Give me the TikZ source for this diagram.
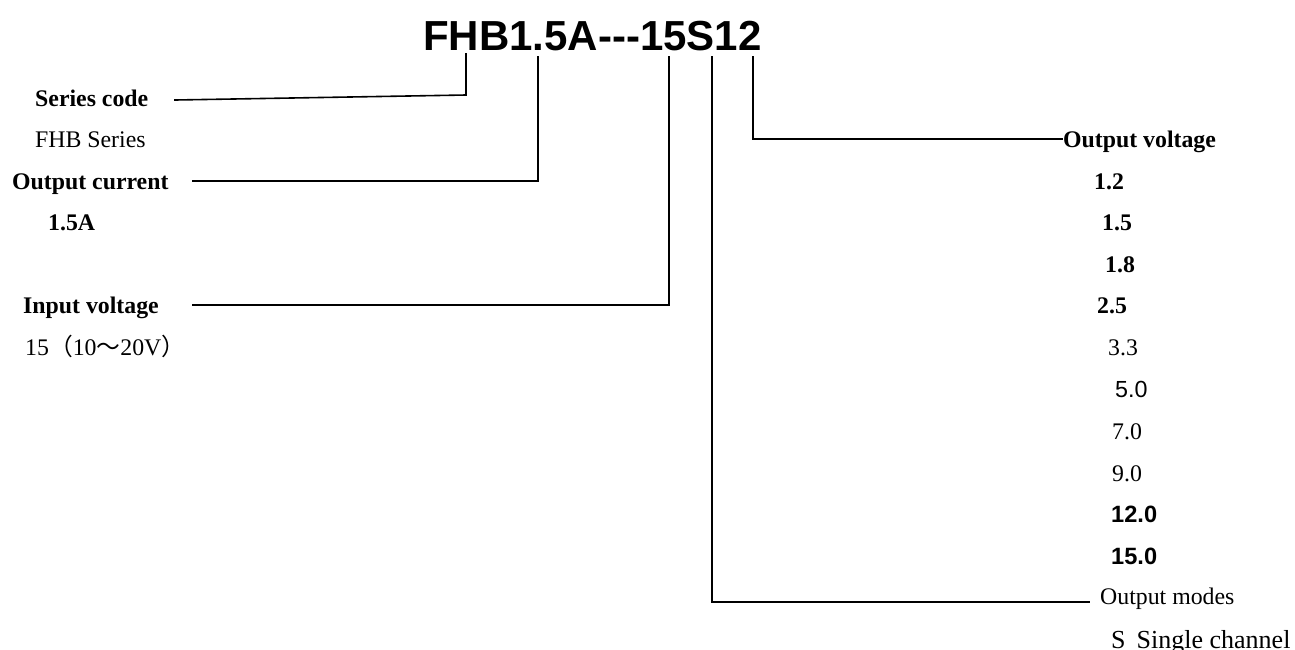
\documentclass[tikz,border=0pt]{standalone}
\usepackage{fontspec}
\setmainfont{Liberation Serif}
\setsansfont{Liberation Sans}[Ligatures=NoCommon]
\newfontfamily\cjkf{Noto Sans CJK SC}
\begin{document}
\begin{tikzpicture}[x=1pt,y=-1pt,
  lbl/.style={anchor=base west,inner sep=0pt,font=\fontsize{23.8}{28}\selectfont},
  blbl/.style={lbl,font=\fontsize{23.8}{28}\selectfont\bfseries},
  slbl/.style={lbl,font=\fontsize{23.3}{28}\selectfont\sffamily},
  sblbl/.style={lbl,font=\fontsize{23.6}{28}\selectfont\sffamily\bfseries},
  conn/.style={line width=1.6pt,line cap=rect}]
\useasboundingbox (0,0) rectangle (1295,649);
% title
\node[anchor=base west,inner sep=0pt,font=\fontsize{42}{48}\selectfont\sffamily\bfseries] (title) at (423,50) {FHB1.5A{-}{-}{-}15S12};
\coordinate (tF) at (466,54);
\coordinate (tC) at (538,57);
\coordinate (tI) at (669,57);
\coordinate (tM) at (712,57);
\coordinate (tV) at (753,57);
% left labels
\node[blbl] (sc) at (35,106) {Series code};
\node[lbl] (scv) at (35,147) {FHB Series};
\node[blbl] (oc) at (12,189) {Output current};
\node[blbl] (ocv) at (48,230) {1.5A};
\node[blbl] (iv) at (23,313) {Input voltage};
\node[lbl] (ivv) at (25,355) {15{\cjkf（}10{\cjkf～}20V{\cjkf）}};
% right labels
\node[blbl] (ov) at (1063,147) {Output voltage};
\node[blbl] (v1) at (1094,189) {1.2};
\node[blbl] (v2) at (1102,230) {1.5};
\node[blbl] (v3) at (1105,272) {1.8};
\node[blbl] (v4) at (1097,313) {2.5};
\node[lbl] (v5) at (1108,355) {3.3};
\node[slbl] (v6) at (1115,397) {5.0};
\node[lbl] (v7) at (1112,439) {7.0};
\node[lbl] (v8) at (1112,481) {9.0};
\node[sblbl] (v9) at (1111,522) {12.0};
\node[sblbl] (v10) at (1111,564) {15.0};
\node[lbl] (om) at (1100,604) {Output modes};
\node[lbl,font=\fontsize{26}{30}\selectfont] (omv) at (1111,648) {S\hspace{11pt}Single channel};
% connectors
\coordinate (eF) at (175,100);
\coordinate (eC) at (193,181);
\coordinate (eI) at (193,305);
\coordinate (eV) at (1062,139);
\coordinate (eM) at (1089,602);
\draw[conn] (tF) -- (466,95) -- (eF);
\draw[conn] (tC) |- (eC);
\draw[conn] (tI) |- (eI);
\draw[conn] (tV) |- (eV);
\draw[conn] (tM) |- (eM);
\end{tikzpicture}
\end{document}
